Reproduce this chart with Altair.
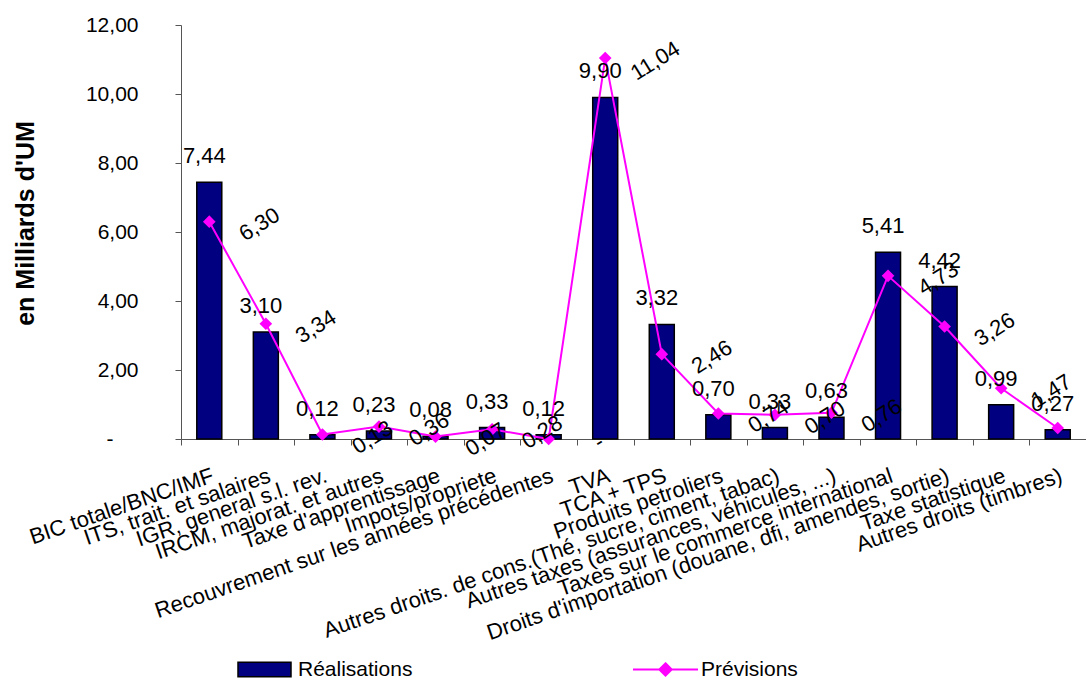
import altair as alt
import pandas as pd

# Recettes fiscales par rubrique (milliards d'UM)
categories = [
    "BIC totale/BNC/IMF",
    "ITS, trait. et salaires",
    "IGR, general s.l. rev.",
    "IRCM, majorat. et autres",
    "Taxe d'apprentissage",
    "Impots/propriete",
    "Recouvrement sur les années précédentes",
    "TVA",
    "TCA + TPS",
    "Produits petroliers",
    "Autres droits. de cons.(Thé, sucre, ciment, tabac)",
    "Autres taxes (assurances, véhicules, ...)",
    "Taxes sur le commerce international",
    "Droits d'importation (douane, dfi, amendes, sortie)",
    "Taxe statistique",
    "Autres droits (timbres)",
]
realisations = [7.44, 3.10, 0.12, 0.23, 0.08, 0.33, 0.12, 9.90,
                3.32, 0.70, 0.33, 0.63, 5.41, 4.42, 0.99, 0.27]
previsions = [6.30, 3.34, 0.13, 0.36, 0.07, 0.28, 0.00, 11.04,
              2.46, 0.74, 0.70, 0.76, 4.73, 3.26, 1.47, 0.32]
y_ticks = [0, 2, 4, 6, 8, 10, 12]

FONT = "Liberation Sans"
NAVY = "#000080"
MAGENTA = "#FF00FF"

df_r = pd.DataFrame({"rubrique": categories, "valeur": realisations,
                     "serie_r": "Réalisations"})
df_p = pd.DataFrame({"rubrique": categories, "valeur": previsions,
                     "serie_p": "Prévisions"})

label_expr = ("datum.valeur == 0 ? '-' : "
              "replace(format(datum.valeur, '.2f'), '.', ',')")

x_enc = alt.X(
    "rubrique:N",
    sort=categories,
    scale=alt.Scale(paddingInner=0, paddingOuter=0),
    axis=alt.Axis(
        title=None,
        labelAngle=341,
        labelAlign="right",
        labelBaseline="top",
        labelFont=FONT,
        labelFontSize=22,
        labelColor="black",
        labelPadding=20,
        labelOverlap=False,
        labelLimit=800,
        tickSize=6,
        tickBand="extent",
        tickColor="#555555",
        domainColor="#555555",
        grid=False,
    ),
)

y_scale = alt.Scale(domain=[0, 12], nice=False)
y_axis = alt.Axis(
    values=y_ticks,
    labelExpr=("datum.value == 0 ? '-' : "
               "replace(format(datum.value, '.2f'), '.', ',')"),
    labelFont=FONT,
    labelFontSize=21,
    labelColor="black",
    labelPadding={"condition": {"test": "datum.value == 0", "value": 62},
                  "value": 37},
    tickSize=6,
    tickColor="#555555",
    domainColor="#555555",
    grid=False,
    title="en Milliards d'UM",
    titleFont=FONT,
    titleFontSize=25,
    titleFontWeight="bold",
    titleColor="black",
    titleAngle=270,
    titleAlign="center",
    titleBaseline="alphabetic",
    titleX=-148,
    titleY=198,
)

bars = alt.Chart(df_r).mark_bar(size=25, stroke="black", strokeWidth=1.5).encode(
    x=x_enc,
    y=alt.Y("valeur:Q", scale=y_scale, axis=y_axis),
    fill=alt.Fill(
        "serie_r:N",
        scale=alt.Scale(domain=["Réalisations"], range=[NAVY]),
        legend=alt.Legend(
            title=None,
            orient="none",
            legendX=56,
            legendY=617,
            padding=0,
            symbolType="M-1,-0.27H1V0.27H-1Z",
            symbolSize=2809,
            symbolStrokeColor="black",
            symbolStrokeWidth=1.5,
            labelFont=FONT,
            labelFontSize=21,
            labelColor="black",
            labelOffset=6,
        ),
    ),
)

bar_labels = alt.Chart(df_r).mark_text(
    font=FONT, fontSize=22, color="black", dx=-5, dy=-26,
    align="center", baseline="middle",
).transform_calculate(txt=label_expr).encode(
    x=alt.X("rubrique:N", sort=categories),
    y=alt.Y("valeur:Q", scale=y_scale),
    text="txt:N",
)

line = alt.Chart(df_p).mark_line(strokeWidth=2).encode(
    x=alt.X("rubrique:N", sort=categories),
    y=alt.Y("valeur:Q", scale=y_scale),
    stroke=alt.Stroke(
        "serie_p:N",
        scale=alt.Scale(domain=["Prévisions"], range=[MAGENTA]),
        legend=alt.Legend(
            title=None,
            orient="none",
            legendX=451,
            legendY=611,
            padding=0,
            symbolType="M-1,0H1M0,-0.19L0.19,0L0,0.19L-0.19,0Z",
            symbolSize=4225,
            symbolFillColor=MAGENTA,
            symbolStrokeWidth=2,
            labelFont=FONT,
            labelFontSize=21,
            labelColor="black",
            labelOffset=2,
        ),
    ),
)

points = alt.Chart(df_p).mark_point(
    shape="diamond", size=160, filled=True, color=MAGENTA, opacity=1
).encode(
    x=alt.X("rubrique:N", sort=categories),
    y=alt.Y("valeur:Q", scale=y_scale),
)

line_labels = alt.Chart(df_p).mark_text(
    font=FONT, fontSize=22, color="black", angle=328, dx=41, dy=29,
    align="center", baseline="middle",
).transform_calculate(txt=label_expr).encode(
    x=alt.X("rubrique:N", sort=categories),
    y=alt.Y("valeur:Q", scale=y_scale),
    text="txt:N",
)

chart = alt.layer(bars, line, points, bar_labels, line_labels).properties(
    width=905,
    height=414,
    autosize=alt.AutoSizeParams(type="none"),
    padding={"left": 181, "top": 25, "right": 0, "bottom": 240},
    background="white",
).configure_view(stroke=None)

chart.save("out.html", embed_options={"renderer": "svg", "actions": False})
